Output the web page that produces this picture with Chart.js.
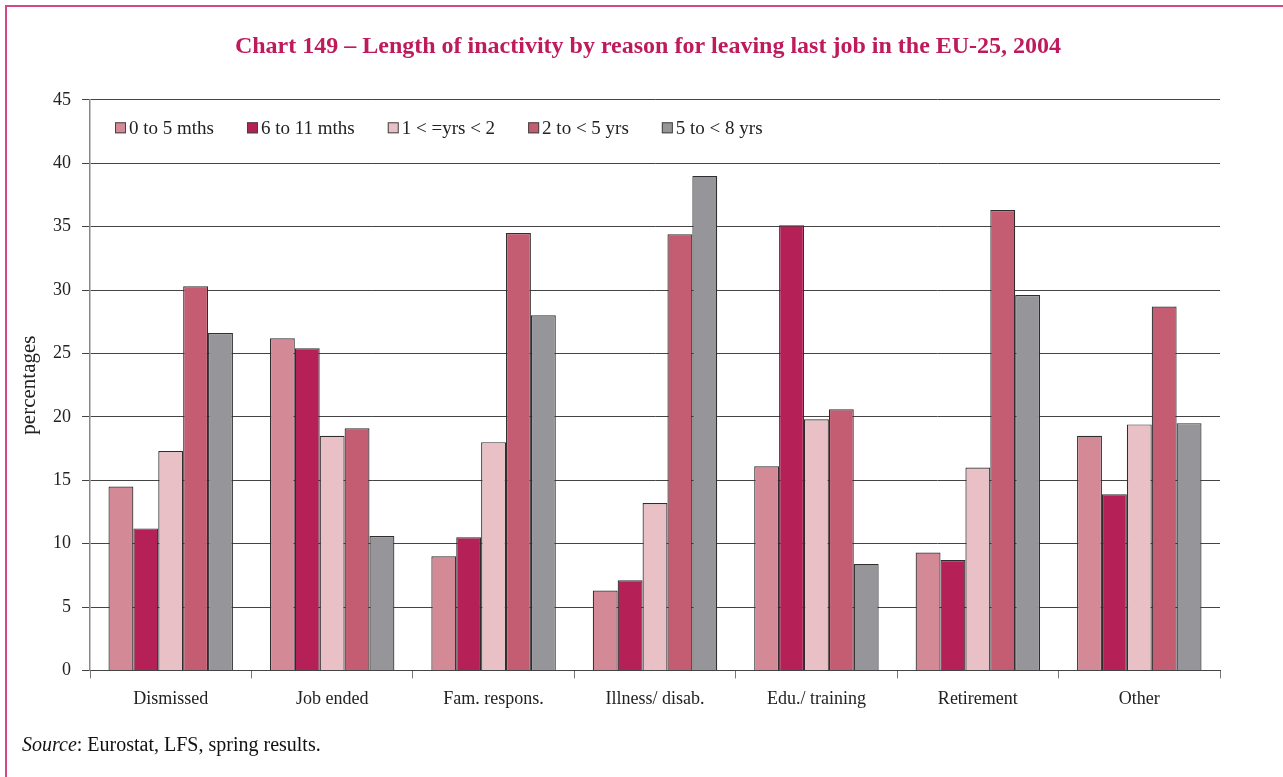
<!DOCTYPE html>
<html>
<head>
<meta charset="utf-8">
<script src="https://cdn.jsdelivr.net/npm/chart.js@4.4.1/dist/chart.umd.min.js"></script>
<style>
  body { margin: 0; background: #fff; }
  #frame {
    position: absolute; left: 5px; top: 5px; width: 1278px; height: 772px;
    border-top: 2px solid #d6478a; border-left: 2px solid #d6478a;
  }
  #chart { position: absolute; left: 0; top: 0; }
  #source {
    position: absolute; left: 22px; top: 733px;
    font-family: "Liberation Serif", "Times New Roman", serif; font-size: 20px; color: #111;
  }
</style>
</head>
<body>
<div id="frame"></div>
<canvas id="chart" width="1283" height="777"></canvas>
<div id="source"><i>Source</i>: Eurostat, LFS, spring results.</div>
<script>
// Categories and series
const reasons = ["Dismissed", "Job ended", "Fam. respons.", "Illness/ disab.", "Edu./ training", "Retirement", "Other"];
const mths0to5 = [14.5, 26.2, 9.0, 6.3, 16.1, 9.3, 18.5];
const mths6to11 = [11.2, 25.4, 10.5, 7.1, 35.1, 8.7, 13.9];
const yrs1to2 = [17.3, 18.5, 18.0, 13.2, 19.8, 16.0, 19.4];
const yrs2to5 = [30.3, 19.1, 34.5, 34.4, 20.6, 36.3, 28.7];
const yrs5to8 = [26.6, 10.6, 28.0, 39.0, 8.4, 29.6, 19.5];

const serif = "'Liberation Serif', 'Times New Roman', serif";

const ctx = document.getElementById("chart");

function makeSet(label, data, color) {
  return {
    label: label,
    data: data,
    backgroundColor: color,
    borderColor: "#2e2e2e",
    borderWidth: 1.2,
    borderSkipped: "bottom",
  };
}

// Legend drawn in one row inside the plot, under the top gridline
const innerLegend = {
  id: "innerLegend",
  afterDraw(chart) {
    const c = chart.ctx;
    const area = chart.chartArea;
    const box = 11;
    let x = area.left + 25;
    const y = area.top + 28;
    c.save();
    c.font = "19px " + serif;
    c.textBaseline = "middle";
    c.textAlign = "left";
    chart.data.datasets.forEach((ds) => {
      c.fillStyle = ds.backgroundColor;
      c.fillRect(x, y - box / 2, box, box);
      c.strokeStyle = "#444";
      c.lineWidth = 1;
      c.strokeRect(x + 0.5, y - box / 2 + 0.5, box - 1, box - 1);
      c.fillStyle = "#222";
      c.fillText(ds.label, x + box + 3, y + 1);
      x += box + 3 + c.measureText(ds.label).width + 33;
    });
    c.restore();
  },
};

new Chart(ctx, {
  type: "bar",
  data: {
    labels: reasons,
    datasets: [
      makeSet("0 to 5 mths", mths0to5, "#d48a96"),
      makeSet("6 to 11 mths", mths6to11, "#b52056"),
      makeSet("1 < =yrs < 2", yrs1to2, "#e8c0c5"),
      makeSet("2 to < 5 yrs", yrs2to5, "#c55d72"),
      makeSet("5 to < 8 yrs", yrs5to8, "#96969a"),
    ],
  },
  plugins: [innerLegend],
  options: {
    responsive: false,
    animation: false,
    layout: {
      padding: { left: 13, right: 0, top: 0, bottom: 57 },
    },
    datasets: {
      bar: { categoryPercentage: 0.771, barPercentage: 1.0 },
    },
    plugins: {
      title: {
        display: true,
        text: "Chart 149 \u2013 Length of inactivity by reason for leaving last job in the EU-25, 2004",
        color: "#bf1a5c",
        font: { family: serif, size: 24, weight: "bold" },
        padding: { top: 32, bottom: 39 },
      },
      legend: { display: false },
      tooltip: { enabled: false },
    },
    scales: {
      x: {
        grid: {
          offset: true,
          drawOnChartArea: false,
          color: "#777",
          tickLength: 8,
        },
        border: { color: "#444" },
        ticks: {
          color: "#222",
          font: { family: serif, size: 18 },
          padding: 10,
        },
      },
      y: {
        min: 0,
        max: 45,
        afterFit: (scale) => {
          scale.width = 77;
        },
        ticks: {
          stepSize: 5,
          color: "#222",
          font: { family: serif, size: 18 },
          padding: 11,
        },
        grid: {
          color: "#444",
          tickLength: 8,
        },
        border: { color: "#888", width: 1.5 },
        title: {
          display: true,
          text: "percentages",
          color: "#222",
          font: { family: serif, size: 21 },
          padding: { top: 4, bottom: 0 },
        },
      },
      // empty right-hand margin so the title centres on the page
      yRight: {
        position: "right",
        min: 0,
        max: 45,
        afterFit: (scale) => {
          scale.width = 63;
        },
        ticks: { display: false },
        grid: { display: false, drawTicks: false },
        border: { display: false },
      },
    },
  },
});
</script>
</body>
</html>
